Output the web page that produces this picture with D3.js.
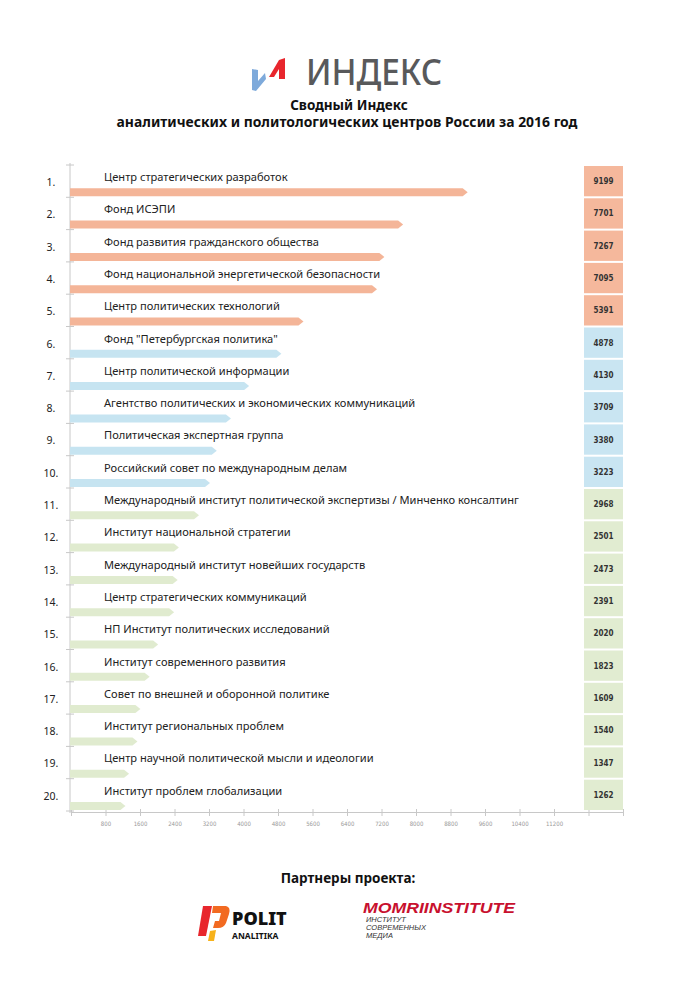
<!DOCTYPE html>
<html>
<head>
<meta charset="utf-8">
<script src="https://cdn.jsdelivr.net/npm/d3@7"></script>
<style>
  body { margin: 0; background: #fff; }
  svg { display: block; }
</style>
</head>
<body>
<div id="chart"></div>
<script>
// Data
var ranks = ["1.", "2.", "3.", "4.", "5.", "6.", "7.", "8.", "9.", "10.",
             "11.", "12.", "13.", "14.", "15.", "16.", "17.", "18.", "19.", "20."];
var names = [
  "Центр стратегических разработок",
  "Фонд ИСЭПИ",
  "Фонд развития гражданского общества",
  "Фонд национальной энергетической безопасности",
  "Центр политических технологий",
  "Фонд \"Петербургская политика\"",
  "Центр политической информации",
  "Агентство политических и экономических коммуникаций",
  "Политическая экспертная группа",
  "Российский совет по международным делам",
  "Международный институт политической экспертизы / Минченко консалтинг",
  "Институт национальной стратегии",
  "Международный институт новейших государств",
  "Центр стратегических  коммуникаций",
  "НП Институт политических исследований",
  "Институт современного развития",
  "Совет по внешней и оборонной политике",
  "Институт региональных проблем",
  "Центр научной политической мысли и идеологии",
  "Институт проблем глобализации"
];
var values = [9199, 7701, 7267, 7095, 5391, 4878, 4130, 3709, 3380, 3223,
              2968, 2501, 2473, 2391, 2020, 1823, 1609, 1540, 1347, 1262];
// group of each row: 0 = top 5, 1 = 6-10, 2 = 11-20
var groups = [0, 0, 0, 0, 0, 1, 1, 1, 1, 1, 2, 2, 2, 2, 2, 2, 2, 2, 2, 2];
var tickValues = d3.range(0, 12801, 800);
var tickLabels = ["800", "1600", "2400", "3200", "4000", "4800", "5600", "6400",
                  "7200", "8000", "8800", "9600", "10400", "11200"];

var width = 700, height = 991;
var barColors = ["#f4b598", "#c6e4f1", "#e0ebcf"];
var boxColors = ["#f5b89c", "#c9e5f2", "#e1ecd1"];
var font = "'Noto Sans', 'Open Sans', sans-serif";

var svg = d3.select('#chart')
            .append('svg')
            .attr('width', width)
            .attr('height', height);

// Logo
var logo = svg.append('g');
logo.append('path')
    .attr('d', 'M252,69 L258,70 L258,81 L265,73 L266,79 L256,91 L252,90 Z')
    .attr('fill', '#7eaadb');
logo.append('path')
    .attr('d', 'M269,77 L279,60 L285,58 L285,79 L279,79 L279,69 L274,77 Z')
    .attr('fill', '#e8262d');
logo.append('text')
    .attr('x', 306).attr('y', 85)
    .attr('textLength', 136)
    .attr('lengthAdjust', 'spacingAndGlyphs')
    .style('font-family', font)
    .style('font-size', '36px')
    .style('font-weight', 500)
    .attr('fill', '#58595b')
    .text('ИНДЕКС');

// Title
svg.append('text')
   .attr('x', 349).attr('y', 110)
   .attr('text-anchor', 'middle')
   .style('font-family', font).style('font-size', '13.5px').style('font-weight', 'bold')
   .attr('fill', '#111')
   .text('Сводный Индекс');
svg.append('text')
   .attr('x', 347).attr('y', 127)
   .attr('text-anchor', 'middle')
   .attr('textLength', 461)
   .attr('lengthAdjust', 'spacingAndGlyphs')
   .style('font-family', font).style('font-size', '13.5px').style('font-weight', 'bold')
   .attr('fill', '#111')
   .text('аналитических и политологических центров России за 2016 год');

// Scales
var x = d3.scaleLinear()
          .domain([0, 12800])
          .range([71, 623]);

var y = d3.scaleBand()
          .domain(ranks)
          .range([165, 811]);

var bh = y.bandwidth();

// Y axis line with row ticks
svg.append('line')
   .attr('x1', 70).attr('x2', 70)
   .attr('y1', 163).attr('y2', 813)
   .attr('stroke', '#c8c8c8');
svg.selectAll('line.rowtick')
   .data(d3.range(ranks.length + 1))
   .enter()
   .append('line')
   .classed('rowtick', true)
   .attr('x1', 66).attr('x2', 74)
   .attr('y1', function(d){ return 165 + d * bh; })
   .attr('y2', function(d){ return 165 + d * bh; })
   .attr('stroke', '#c8c8c8');

// Bottom axis
var xAxis = d3.axisBottom(x)
              .tickValues(tickValues)
              .tickSize(4)
              .tickFormat(function(d){
                return tickLabels.indexOf(String(d)) >= 0 ? d : '';
              });
var ax = svg.append('g')
            .attr('transform', 'translate(0,812)')
            .call(xAxis);
ax.select('.domain').attr('stroke', '#c8c8c8');
ax.selectAll('.tick line').attr('stroke', '#c8c8c8').attr('y1', -3);
ax.selectAll('.tick text')
  .attr('y', 10)
  .attr('fill', '#999999')
  .style('font-family', "'DejaVu Sans Condensed', 'Liberation Sans Narrow', sans-serif")
  .style('font-size', '6px');

// Rows
var rows = svg.selectAll('g.row')
              .data(values)
              .enter()
              .append('g')
              .classed('row', true)
              .attr('transform', function(d, i){
                return 'translate(0,' + y(ranks[i]) + ')';
              });

// Arrow bars
rows.append('path')
    .attr('fill', function(d, i){ return barColors[groups[i]]; })
    .attr('d', function(d){
      var x0 = 70, x1 = x(d), top = bh - 9, bot = bh - 1;
      return 'M' + x0 + ',' + top + ' L' + (x1 - 5) + ',' + top +
             ' L' + x1 + ',' + ((top + bot) / 2) +
             ' L' + (x1 - 5) + ',' + bot + ' L' + x0 + ',' + bot + ' Z';
    });

// Rank numbers
rows.append('text')
    .attr('x', 51)
    .attr('y', 21)
    .attr('text-anchor', 'middle')
    .style('font-family', font).style('font-size', '10.5px')
    .attr('fill', '#222')
    .text(function(d, i){ return ranks[i]; });

// Names
rows.append('text')
    .attr('x', 104)
    .attr('y', 16)
    .style('font-family', font).style('font-size', '11.1px')
    .attr('fill', '#222')
    .text(function(d, i){ return names[i]; });

// Value boxes
rows.append('rect')
    .attr('x', 584)
    .attr('y', 1)
    .attr('width', 39)
    .attr('height', bh - 2)
    .attr('fill', function(d, i){ return boxColors[groups[i]]; });

rows.append('text')
    .attr('x', 603.5)
    .attr('y', bh / 2 + 3)
    .attr('text-anchor', 'middle')
    .style('font-family', "'DejaVu Sans Condensed', 'Liberation Sans Narrow', sans-serif")
    .style('font-size', '8px')
    .style('font-weight', 'bold')
    .attr('fill', '#333')
    .text(function(d){ return d; });

// Partners
svg.append('text')
   .attr('x', 348).attr('y', 883)
   .attr('text-anchor', 'middle')
   .style('font-family', font).style('font-size', '13.5px').style('font-weight', 'bold')
   .attr('fill', '#111')
   .text('Партнеры проекта:');

var polit = svg.append('g');
polit.append('path')
     .attr('d', 'M203,906 L212,906 L206,936 L198,936 Z')
     .attr('fill', '#e8262d');
polit.append('path')
     .attr('d', 'M213,906 L226,906 Q231,907 229,914 L226,923 Q224,928 218,928 L213,928 L215,921 L219,921 L221,913 L212,913 Z')
     .attr('fill', '#f26a21');
polit.append('path')
     .attr('d', 'M210,931 L216,930 L214,941 L208,941 Z')
     .attr('fill', '#f7b21b');
polit.append('text')
     .attr('x', 232).attr('y', 925)
     .style('font-family', font).style('font-size', '18px').style('font-weight', 900)
     .attr('fill', '#111')
     .text('POLIT');
polit.append('text')
     .attr('x', 232).attr('y', 939)
     .style('font-family', font).style('font-size', '8.5px').style('font-weight', 'bold')
     .attr('fill', '#111')
     .text('ANALITIKA');

var momri = svg.append('g');
momri.append('text')
     .attr('x', 363).attr('y', 913)
     .attr('textLength', 152)
     .attr('lengthAdjust', 'spacingAndGlyphs')
     .style('font-family', "'Liberation Sans', Arial, sans-serif")
     .style('font-size', '15px').style('font-weight', 'bold').style('font-style', 'italic')
     .attr('fill', '#c8102e')
     .text('MOMRIINSTITUTE');
momri.selectAll('text.sub')
     .data(['ИНСТИТУТ', 'СОВРЕМЕННЫХ', 'МЕДИА'])
     .enter()
     .append('text')
     .classed('sub', true)
     .attr('x', 366)
     .attr('y', function(d, i){ return 922 + i * 8; })
     .style('font-family', "'Liberation Sans', Arial, sans-serif")
     .style('font-size', '7.5px').style('font-style', 'italic')
     .attr('fill', '#333')
     .text(function(d){ return d; });
</script>
</body>
</html>
